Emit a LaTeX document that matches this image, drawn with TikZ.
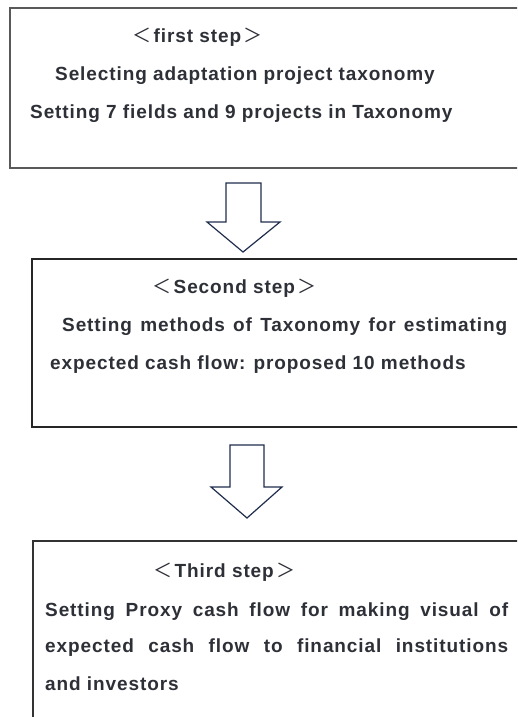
\documentclass[tikz,border=0pt]{standalone}
\usepackage{fontspec}
\setmainfont[Ligatures=CommonOff,LetterSpace=4.8]{Liberation Sans}
\newfontfamily\cjk{Noto Sans CJK KR}
\usetikzlibrary{positioning}
\tikzset{>=stealth}
\definecolor{textgray}{HTML}{2E3038}
\definecolor{arrownavy}{HTML}{1F2D4C}
\tikzset{
  steptext/.style={anchor=base west, inner sep=0pt, text=textgray,
    font=\bfseries\fontsize{19}{20}\selectfont},
  boxline/.style={line width=1.3pt},
  blockarrow/.style={draw=arrownavy, line width=1.2pt, fill=white, line join=miter}
}
\newcommand{\lbr}{{\cjk\mdseries ＜}\hspace{2.5pt}}
\newcommand{\rbr}{\hspace{2.5pt}{\cjk\mdseries ＞}}

\begin{document}
\begin{tikzpicture}[x=1pt,y=-1pt]
\useasboundingbox (0,0) rectangle (517,717);
\clip (0,0) rectangle (517,717);
\fill [white] (0,0) rectangle (517,717);
% boxes
\draw [boxline,draw=black!65] (10,8) rectangle (530,168);
\draw [boxline,draw=black!85] (32,259) rectangle (530,427);
\draw [boxline,draw=black!80] (33,541) rectangle (530,730);
% arrows
\draw [blockarrow] (226,183)--(261,183)--(261,222)--(280,222)--(243,252)--(207,222)--(226,222)--cycle;
\draw [blockarrow] (230,445)--(264,445)--(264,487)--(282,487)--(247,518)--(211,487)--(230,487)--cycle;
% first step
\node [steptext] (s1head) at (132,43) {\lbr first step\rbr};
\node [steptext] (s1a) at (55,81) {Selecting adaptation project taxonomy};
\node [steptext] (s1b) at (30,118) {Setting 7 fields and 9 projects in Taxonomy};
% second step
\node [steptext] (s2head) at (152,293) {\lbr Second step\rbr};
\node [steptext] (s2a) at (62,331) {\makebox[445pt][s]{Setting methods of Taxonomy for estimating}};
\node [steptext] (s2b) at (50,369) {expected cash flow: proposed 10 methods};
% third step
\node [steptext] (s3head) at (153,577) {\lbr Third step\rbr};
\node [steptext] (s3a) at (45,616) {\makebox[463pt][s]{Setting Proxy cash flow for making visual of}};
\node [steptext] (s3b) at (45,652) {\makebox[463pt][s]{expected cash flow to financial institutions}};
\node [steptext] (s3c) at (45,690) {and investors};
\end{tikzpicture}
\end{document}
